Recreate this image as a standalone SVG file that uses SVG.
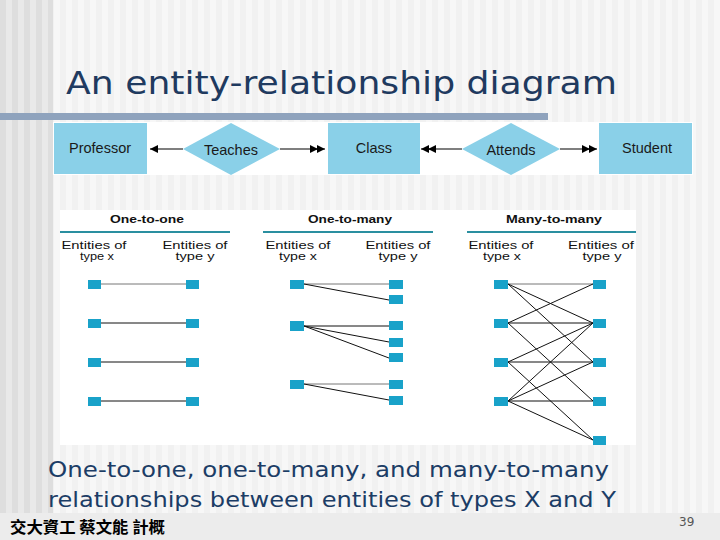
<svg xmlns="http://www.w3.org/2000/svg" width="720" height="540" viewBox="0 0 720 540">
<defs>
<pattern id="stripeDark" x="0" y="0" width="12" height="10" patternUnits="userSpaceOnUse">
<rect width="12" height="10" fill="#dedede"/>
<rect x="6" width="6" height="10" fill="#e9e9e9"/>
</pattern>
<pattern id="stripeLight" x="0" y="0" width="12" height="10" patternUnits="userSpaceOnUse">
<rect width="12" height="10" fill="#f1f1f1"/>
<rect x="6" width="6" height="10" fill="#f7f7f7"/>
</pattern>
<marker id="ah" viewBox="0 0 8 8" refX="8" refY="4" markerWidth="8" markerHeight="8" markerUnits="userSpaceOnUse" orient="auto">
<path d="M0,0 L8,4 L0,8 Z" fill="#000"/>
</marker>
<marker id="ah2" viewBox="0 0 15 8" refX="15" refY="4" markerWidth="15" markerHeight="8" markerUnits="userSpaceOnUse" orient="auto">
<path d="M0,0 L8,4 L0,8 Z M7,0 L15,4 L7,8 Z" fill="#000"/>
</marker>
</defs>
<style>
.title{font-family:"DejaVu Sans","Liberation Sans",sans-serif;fill:#1f3a5f}
.cap{font-family:"DejaVu Sans","Liberation Sans",sans-serif;font-size:22px;fill:#1c3d66}
.box{fill:#8ad0e8}
.lbl{font-family:"Liberation Sans",Arial,sans-serif;font-size:14.5px;fill:#1a1a1a;text-anchor:middle}
.sq{fill:#19a2c9}
.hdr{font-family:"Liberation Sans",Arial,sans-serif;font-size:10px;font-weight:bold;fill:#111;text-anchor:middle}
.col{font-family:"Liberation Sans",Arial,sans-serif;font-size:10px;fill:#111;text-anchor:middle}
.hl{stroke:#2a8fa0;stroke-width:2}
.ln{stroke:#111;stroke-width:1;fill:none}
.lg{stroke:#777;stroke-width:1;fill:none}
.ar{stroke:#000;stroke-width:1.2;fill:none}
</style>
<!-- background -->
<rect x="0" y="0" width="720" height="540" fill="url(#stripeLight)"/>
<rect x="0" y="0" width="53" height="513" fill="url(#stripeDark)"/>
<rect x="0" y="513" width="720" height="27" fill="#ececec"/>
<rect x="0" y="113" width="548" height="7" fill="#8fa3bd"/>
<text class="title" x="66" y="94" font-size="32" textLength="551" lengthAdjust="spacingAndGlyphs">An entity-relationship diagram</text>

<!-- top ER diagram -->
<rect x="53" y="122" width="640" height="53" fill="#ffffff"/>
<g id="connectors-er">
<line class="ar" x1="183" y1="149" x2="150" y2="149" marker-end="url(#ah)"/>
<line class="ar" x1="280" y1="149" x2="325" y2="149" marker-end="url(#ah2)"/>
<line class="ar" x1="462" y1="149" x2="421" y2="149" marker-end="url(#ah2)"/>
<line class="ar" x1="560" y1="149" x2="597" y2="149" marker-end="url(#ah2)"/>
</g>
<g id="professor"><rect class="box" x="54" y="123" width="93" height="51"/><text class="lbl" x="100" y="153">Professor</text></g>
<g id="teaches"><polygon class="box" points="183,149 231,123 280,149 231,175"/><text class="lbl" x="231" y="155">Teaches</text></g>
<g id="class"><rect class="box" x="328" y="123" width="92" height="51"/><text class="lbl" x="374" y="153">Class</text></g>
<g id="attends"><polygon class="box" points="462,149 511,123 560,149 511,175"/><text class="lbl" x="511" y="155">Attends</text></g>
<g id="student"><rect class="box" x="599" y="123" width="93" height="51"/><text class="lbl" x="647" y="153">Student</text></g>

<!-- bottom relationship panel -->
<rect x="60" y="210" width="576" height="235" fill="#ffffff"/>
<g id="headers">
<text class="hdr" x="147" y="223" textLength="74" lengthAdjust="spacingAndGlyphs">One-to-one</text>
<text class="hdr" x="350" y="223" textLength="84" lengthAdjust="spacingAndGlyphs">One-to-many</text>
<text class="hdr" x="554" y="223" textLength="96" lengthAdjust="spacingAndGlyphs">Many-to-many</text>
<line class="hl" x1="60" y1="232" x2="230" y2="232"/>
<line class="hl" x1="263" y1="232" x2="433" y2="232"/>
<line class="hl" x1="467" y1="232" x2="636" y2="232"/>
<text class="col" x="94" y="249" textLength="65" lengthAdjust="spacingAndGlyphs">Entities of</text>
<text class="col" x="97" y="260" textLength="34" lengthAdjust="spacingAndGlyphs">type x</text>
<text class="col" x="195" y="249" textLength="65" lengthAdjust="spacingAndGlyphs">Entities of</text>
<text class="col" x="195" y="260" textLength="39" lengthAdjust="spacingAndGlyphs">type y</text>
<text class="col" x="298" y="249" textLength="65" lengthAdjust="spacingAndGlyphs">Entities of</text>
<text class="col" x="298" y="260" textLength="38" lengthAdjust="spacingAndGlyphs">type x</text>
<text class="col" x="398" y="249" textLength="65" lengthAdjust="spacingAndGlyphs">Entities of</text>
<text class="col" x="398" y="260" textLength="39" lengthAdjust="spacingAndGlyphs">type y</text>
<text class="col" x="501" y="249" textLength="65" lengthAdjust="spacingAndGlyphs">Entities of</text>
<text class="col" x="502" y="260" textLength="38" lengthAdjust="spacingAndGlyphs">type x</text>
<text class="col" x="601" y="249" textLength="66" lengthAdjust="spacingAndGlyphs">Entities of</text>
<text class="col" x="602" y="260" textLength="39" lengthAdjust="spacingAndGlyphs">type y</text>
</g>

<g id="connectors">
<!-- one-to-one -->
<line class="lg" x1="101" y1="284" x2="186" y2="284"/>
<line class="ln" x1="101" y1="323" x2="186" y2="323"/>
<line class="ln" x1="101" y1="362" x2="186" y2="362"/>
<line class="ln" x1="101" y1="401" x2="186" y2="401"/>
<!-- one-to-many -->
<line class="lg" x1="304" y1="284" x2="389" y2="284"/>
<line class="ln" x1="304" y1="284" x2="389" y2="300"/>
<line class="ln" x1="304" y1="326" x2="389" y2="326"/>
<line class="ln" x1="304" y1="326" x2="389" y2="342"/>
<line class="ln" x1="304" y1="326" x2="389" y2="358"/>
<line class="lg" x1="304" y1="384" x2="389" y2="384"/>
<line class="ln" x1="304" y1="384" x2="389" y2="400"/>
<!-- many-to-many -->
<line class="lg" x1="508" y1="284" x2="593" y2="284"/>
<line class="ln" x1="508" y1="284" x2="593" y2="323"/>
<line class="ln" x1="508" y1="284" x2="593" y2="362"/>
<line class="ln" x1="508" y1="323" x2="593" y2="284"/>
<line class="ln" x1="508" y1="323" x2="593" y2="323"/>
<line class="ln" x1="508" y1="323" x2="593" y2="401"/>
<line class="ln" x1="508" y1="362" x2="593" y2="323"/>
<line class="ln" x1="508" y1="362" x2="593" y2="362"/>
<line class="ln" x1="508" y1="362" x2="593" y2="440"/>
<line class="ln" x1="508" y1="401" x2="593" y2="323"/>
<line class="ln" x1="508" y1="401" x2="593" y2="362"/>
<line class="ln" x1="508" y1="401" x2="593" y2="401"/>
<line class="ln" x1="508" y1="401" x2="593" y2="440"/>
</g>

<g id="one-to-one-entities">
<rect class="sq" x="88" y="280" width="13" height="9"/>
<rect class="sq" x="88" y="319" width="13" height="9"/>
<rect class="sq" x="88" y="358" width="13" height="9"/>
<rect class="sq" x="88" y="397" width="13" height="9"/>
<rect class="sq" x="186" y="280" width="13" height="9"/>
<rect class="sq" x="186" y="319" width="13" height="9"/>
<rect class="sq" x="186" y="358" width="13" height="9"/>
<rect class="sq" x="186" y="397" width="13" height="9"/>
</g>
<g id="one-to-many-entities">
<rect class="sq" x="290" y="280" width="14" height="9"/>
<rect class="sq" x="290" y="321" width="14" height="10"/>
<rect class="sq" x="290" y="380" width="14" height="9"/>
<rect class="sq" x="389" y="280" width="14" height="9"/>
<rect class="sq" x="389" y="295" width="14" height="9"/>
<rect class="sq" x="389" y="321" width="14" height="9"/>
<rect class="sq" x="389" y="338" width="14" height="9"/>
<rect class="sq" x="389" y="353" width="14" height="9"/>
<rect class="sq" x="389" y="380" width="14" height="9"/>
<rect class="sq" x="389" y="396" width="14" height="9"/>
</g>
<g id="many-to-many-entities">
<rect class="sq" x="494" y="280" width="14" height="9"/>
<rect class="sq" x="494" y="319" width="14" height="9"/>
<rect class="sq" x="494" y="358" width="14" height="9"/>
<rect class="sq" x="494" y="397" width="14" height="9"/>
<rect class="sq" x="593" y="280" width="13" height="9"/>
<rect class="sq" x="593" y="319" width="13" height="9"/>
<rect class="sq" x="593" y="358" width="13" height="9"/>
<rect class="sq" x="593" y="397" width="13" height="9"/>
<rect class="sq" x="593" y="436" width="13" height="9"/>
</g>

<text class="cap" x="48" y="477" textLength="561" lengthAdjust="spacingAndGlyphs">One-to-one, one-to-many, and many-to-many</text>
<text class="cap" x="48" y="507" textLength="568" lengthAdjust="spacingAndGlyphs">relationships between entities of types X and Y</text>
<text x="10" y="533" font-family="'Noto Sans CJK TC','Noto Sans CJK SC',sans-serif" font-size="16" font-weight="bold" fill="#000" textLength="155" lengthAdjust="spacingAndGlyphs">交大資工 蔡文能 計概</text>
<text x="679" y="526" font-family="'DejaVu Sans',sans-serif" font-size="12" fill="#555">39</text>
</svg>
